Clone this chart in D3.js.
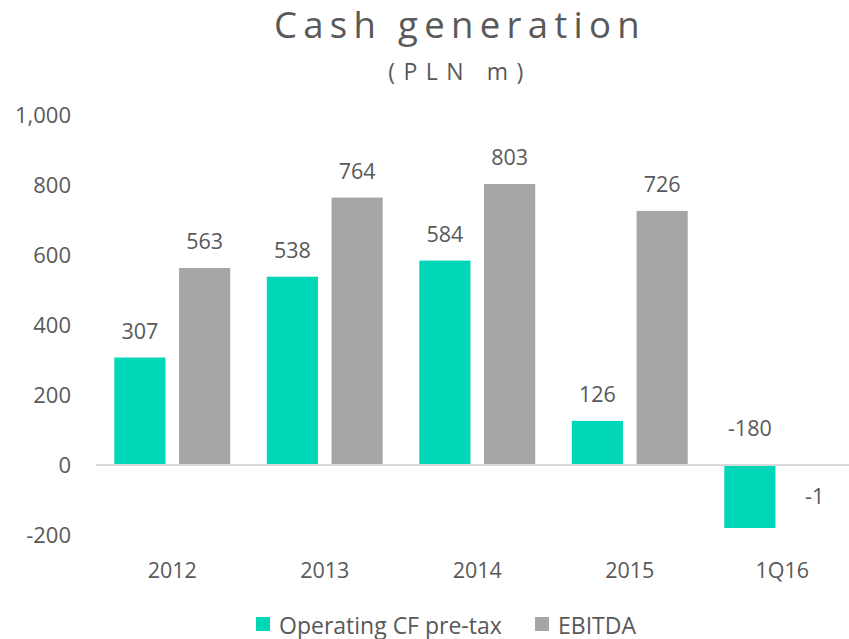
<!DOCTYPE html>
<html>
<head>
<meta charset="utf-8">
<script src="https://cdn.jsdelivr.net/npm/d3@7"></script>
<style>
  body { margin: 0; background: #fff; }
  text { font-family: 'Open Sans', sans-serif; fill: #595959; }
</style>
</head>
<body>
<div id="chart"></div>
<script>
const categories = ['2012', '2013', '2014', '2015', '1Q16'];
const seriesNames = ['Operating CF pre-tax', 'EBITDA'];
const operatingCF = [307, 538, 584, 126, -180];
const ebitda = [563, 764, 803, 726, -1];
const yTicks = [-200, 0, 200, 400, 600, 800, 1000];
const colors = ['#00D6B8', '#A6A6A6'];

const W = 849, H = 639;
const fmt = v => d3.format(',')(v).replace('\u2212', '-');

const svg = d3.select('#chart')
  .append('svg')
  .attr('width', W)
  .attr('height', H);

const x0 = d3.scaleBand()
  .domain(categories)
  .range([96, 858.5])
  .paddingInner(0.24)
  .paddingOuter(0.12);

const x1 = d3.scaleBand()
  .domain(seriesNames)
  .range([0, x0.bandwidth()])
  .paddingInner(0.21);

const y = d3.scaleLinear()
  .domain([-200, 1000])
  .range([535, 115]);

// title
svg.append('text')
  .attr('x', 460)
  .attr('y', 37.5)
  .attr('text-anchor', 'middle')
  .attr('font-size', 36.5)
  .attr('letter-spacing', 6.3)
  .text('Cash generation');

svg.append('text')
  .attr('x', 460)
  .attr('y', 80)
  .attr('text-anchor', 'middle')
  .attr('font-size', 23)
  .attr('letter-spacing', 8.5)
  .text('(PLN m)');

// y axis labels (no line)
const yAxis = svg.append('g')
  .attr('transform', 'translate(71,0)')
  .call(d3.axisLeft(y).tickValues(yTicks).tickSize(0).tickPadding(0).tickFormat(fmt));
yAxis.select('.domain').remove();
yAxis.attr('font-family', null);
yAxis.selectAll('text')
  .attr('font-size', 22)
  .attr('fill', null);

const rows = categories.map((c, i) => ({
  cat: c,
  vals: [operatingCF[i], ebitda[i]]
}));

const groups = svg.append('g')
  .selectAll('g')
  .data(rows)
  .join('g')
  .attr('transform', d => `translate(${x0(d.cat)},0)`);

groups.selectAll('rect')
  .data(d => d.vals.map((v, k) => ({ v, k })))
  .join('rect')
  .attr('x', d => x1(seriesNames[d.k]))
  .attr('width', x1.bandwidth())
  .attr('y', d => y(Math.max(0, d.v)))
  .attr('height', d => Math.abs(y(d.v) - y(0)))
  .attr('fill', d => colors[d.k]);

// zero line
svg.append('line')
  .attr('x1', 96)
  .attr('x2', 858.5)
  .attr('y1', y(0))
  .attr('y2', y(0))
  .attr('stroke', '#D9D9D9')
  .attr('stroke-width', 2);

// data labels
groups.selectAll('text.val')
  .data(d => d.vals.map((v, k) => ({ v, k })))
  .join('text')
  .attr('class', 'val')
  .attr('x', d => x1(seriesNames[d.k]) + x1.bandwidth() / 2)
  .attr('y', d => {
    if (d.v >= 0) return y(d.v) - 19;
    if (d.v < -50) return y(0) - 29;
    return y(d.v) + 39;
  })
  .attr('text-anchor', 'middle')
  .attr('font-size', 21.5)
  .text(d => fmt(d.v));

// category labels
svg.append('g')
  .selectAll('text')
  .data(categories)
  .join('text')
  .attr('x', d => x0(d) + x0.bandwidth() / 2)
  .attr('y', 578)
  .attr('text-anchor', 'middle')
  .attr('font-size', 21.5)
  .text(d => d);

// legend
const legendX = [256, 535];
const legend = svg.append('g')
  .selectAll('g')
  .data(seriesNames)
  .join('g')
  .attr('transform', (d, i) => `translate(${legendX[i]},617)`);

legend.append('rect')
  .attr('width', 14)
  .attr('height', 14)
  .attr('fill', (d, i) => colors[i]);

legend.append('text')
  .attr('x', 23)
  .attr('y', 16.5)
  .attr('font-size', 23)
  .text(d => d);
</script>
</body>
</html>
